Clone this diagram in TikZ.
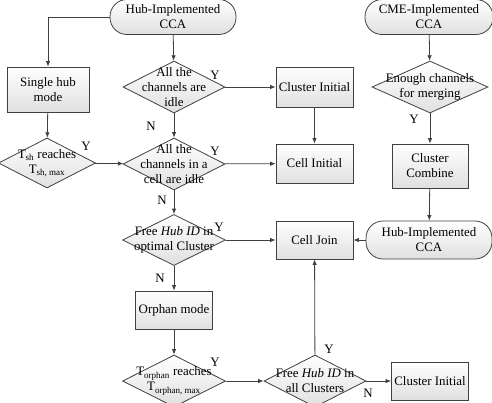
\documentclass[tikz,border=0pt]{standalone}
\usepackage{fontspec}
\setmainfont{Liberation Serif}
\usetikzlibrary{arrows.meta,positioning,shapes.geometric}
\definecolor{edge}{HTML}{404040}
\definecolor{shade}{HTML}{E0E0E0}

\begin{document}
\begin{tikzpicture}[
  x=1bp, y=-1bp,
  every node/.style={font=\fontsize{12.9bp}{15bp}\selectfont},
  box/.style={rectangle, draw=edge, line width=0.8bp, top color=white, bottom color=shade, align=center, inner sep=0pt},
  term/.style={rectangle, rounded corners=17bp, draw=edge, line width=0.8bp, top color=white, bottom color=shade, align=center, inner sep=0pt, minimum width=126bp},
  dec/.style={diamond, draw=edge, line width=0.8bp, top color=white, bottom color=shade, inner sep=0pt},
  dtxt/.style={align=center, inner sep=0pt},
  yn/.style={inner sep=0pt},
  flow/.style={draw=edge, line width=0.8bp, -{Latex[length=5.5bp,width=4.5bp]}}
]
\useasboundingbox (0,0) rectangle (492,402);

% left column
\node[term, minimum height=35bp] (hubA) at (173,17) {Hub-Implemented\\CCA};
\node[box, minimum width=82bp, minimum height=45bp] (single) at (48,89.5) {Single hub\\mode};
\node[dec, minimum width=97bp, minimum height=50bp,
  label={[dtxt]center:{T\textsubscript{sh} reaches\\T\textsubscript{sh, max}}}] (tsh) at (47,163) {};

% middle column
\node[dec, minimum width=102bp, minimum height=52bp,
  label={[dtxt]center:{All the\\channels are\\idle}}] (allidle) at (174,87) {};
\node[dec, minimum width=102bp, minimum height=52bp,
  label={[dtxt]center:{All the\\channels in a\\cell are idle}}] (cellidle) at (174,164) {};
\node[dec, minimum width=103bp, minimum height=51bp,
  label={[dtxt]center:{Free \textit{Hub ID} in\\optimal Cluster}}] (freeopt) at (174,240) {};
\node[box, minimum width=77bp, minimum height=38bp] (orphan) at (174,310) {Orphan mode};
\node[dec, minimum width=103bp, minimum height=52bp,
  label={[dtxt]center:{T\textsubscript{orphan} reaches\\T\textsubscript{orphan, max}}}] (torph) at (174,381) {};

% right-middle column
\node[box, minimum width=77bp, minimum height=40bp] (clinit) at (314.5,87) {Cluster Initial};
\node[box, minimum width=77bp, minimum height=39bp] (cellinit) at (314.5,163.5) {Cell Initial};
\node[box, minimum width=77bp, minimum height=38bp] (celljoin) at (314.5,240) {Cell Join};
\node[dec, minimum width=102bp, minimum height=52bp,
  label={[dtxt]center:{Free \textit{Hub ID} in\\all Clusters}}] (freeall) at (315,381) {};
\node[box, minimum width=77bp, minimum height=38bp] (clinitB) at (430,381) {Cluster Initial};

% right column
\node[term, minimum height=35bp, minimum width=128bp] (cme) at (429,17) {CME-Implemented\\CCA};
\node[dec, minimum width=116bp, minimum height=52bp,
  label={[dtxt]center:{Enough channels\\for merging}}] (enough) at (430,87) {};
\node[box, minimum width=76bp, minimum height=44bp] (combine) at (430,166) {Cluster\\Combine};
\node[term, minimum height=38bp] (hubB) at (429,240) {Hub-Implemented\\CCA};

% connectors
\coordinate (bend) at (single.north |- hubA.west);
\draw[flow] (hubA.west) -- (bend) -- (single.north);
\draw[flow] (single) -- (tsh);
\draw[flow] (tsh) -- (cellidle);
\draw[flow] (hubA) -- (allidle);
\draw[flow] (allidle) -- (clinit);
\draw[flow] (allidle) -- (cellidle);
\draw[flow] (cellidle) -- (cellinit);
\draw[flow] (clinit) -- (cellinit);
\draw[flow] (cellidle) -- (freeopt);
\draw[flow] (freeopt) -- (celljoin);
\draw[flow] (freeopt) -- (orphan);
\draw[flow] (orphan) -- (torph);
\draw[flow] (torph) -- (freeall);
\draw[flow] (freeall) -- (celljoin);
\draw[flow] (freeall) -- (clinitB);
\draw[flow] (cme) -- (enough);
\draw[flow] (enough) -- (combine);
\draw[flow] (combine) -- (hubB);
\draw[flow] (hubB) -- (celljoin);

% Y / N marks
\node[yn] (y1) at (86,146) {Y};
\node[yn] (y2) at (215,75) {Y};
\node[yn] (n1) at (151,126) {N};
\node[yn] (y3) at (215,151) {Y};
\node[yn] (n2) at (162,200) {N};
\node[yn] (y4) at (219,227) {Y};
\node[yn] (n3) at (160,278) {N};
\node[yn] (y5) at (215,362) {Y};
\node[yn] (y6) at (329,349) {Y};
\node[yn] (n4) at (368,393) {N};
\node[yn] (y7) at (414,119) {Y};
\end{tikzpicture}
\end{document}
